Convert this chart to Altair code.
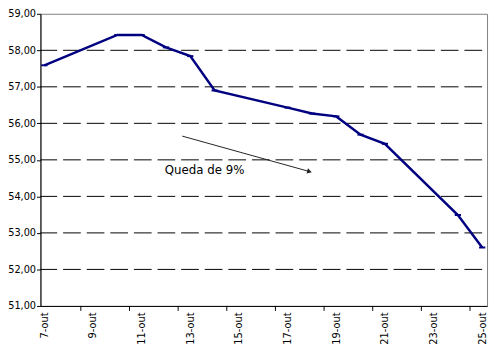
import altair as alt
import pandas as pd

# Data (October, trading days)
days = [7, 10, 11, 12, 13, 14, 17, 18, 19, 20, 21, 24, 25]
values = [57.59, 58.42, 58.42, 58.08, 57.84, 56.90, 56.43, 56.27, 56.19, 55.69, 55.44, 53.49, 52.60]

label_days = [7, 9, 11, 13, 15, 17, 19, 21, 23, 25]
tick_days = [8.5, 10.5, 12.5, 14.5, 16.5, 18.5, 20.5, 22.5, 24.5]
y_ticks = [51, 52, 53, 54, 55, 56, 57, 58, 59]
grid_values = [52, 53, 54, 55, 56, 57, 58]

note_text = ["Queda de 9%"]
note_pos = [(11.95, 54.73)]
arrow_start = (12.67, 55.65)
arrow_end = (17.9, 54.68)

W, H = 454, 297
FONT = "DejaVu Sans"
YFONT = "DejaVu Sans Condensed"

df = pd.DataFrame({"dia": days, "valor": values})
xs = alt.Scale(domain=[6.84, 25.2], nice=False, zero=False)
ys = alt.Scale(domain=[51, 59], nice=False, zero=False)

x_axis = alt.Axis(values=label_days, labelExpr="datum.value + '-out'", labelAngle=270,
                  labelFontSize=10, labelFont=FONT, ticks=False, tickSize=0, labelPadding=6,
                  grid=False, title=None, labelOverlap=False)
y_axis = alt.Axis(values=y_ticks, labelExpr="replace(format(datum.value, '.2f'), '.', ',')",
                  labelFontSize=11, labelFont=YFONT, tickSize=4, labelPadding=1,
                  grid=False, title=None, labelOverlap=False)


def X(field):
    return alt.X(field, scale=xs, axis=x_axis)


def Y(field):
    return alt.Y(field, scale=ys, axis=y_axis)


grid = alt.Chart(pd.DataFrame({"g": grid_values})).mark_rule(
    color="black", strokeWidth=1, strokeDash=[18, 6], strokeDashOffset=19
).encode(y=Y("g:Q"))

xticks = alt.Chart(pd.DataFrame({"t": tick_days})).mark_rule(color="black", strokeWidth=1).encode(
    x=X("t:Q"), y=alt.value(H), y2=alt.value(H + 5)
)

line = alt.Chart(df).mark_line(color="#000080", strokeWidth=2.5).encode(
    x=X("dia:Q"), y=Y("valor:Q")
)
marks = alt.Chart(df).mark_point(shape="stroke", size=40, strokeWidth=2, color="#000080", opacity=1).encode(
    x=X("dia:Q"), y=Y("valor:Q")
)

arrow_df = pd.DataFrame({"x": [arrow_start[0]], "y": [arrow_start[1]],
                         "x2": [arrow_end[0]], "y2": [arrow_end[1]]})
arrow = alt.Chart(arrow_df).mark_rule(color="#222222", strokeWidth=1).encode(
    x=X("x:Q"), y=Y("y:Q"), x2="x2:Q", y2="y2:Q"
)
head = alt.Chart(arrow_df).mark_point(shape="triangle-right", filled=True, size=30, angle=15.5,
                                      color="#222222", opacity=1).encode(
    x=X("x2:Q"), y=Y("y2:Q")
)

note_df = pd.DataFrame({"x": [p[0] for p in note_pos], "y": [p[1] for p in note_pos], "t": note_text})
note = alt.Chart(note_df).mark_text(align="left", baseline="middle", font=FONT, fontSize=12,
                                    color="black").encode(
    x=X("x:Q"), y=Y("y:Q"), text="t:N"
)

chart = alt.layer(grid, xticks, line, marks, arrow, head, note).properties(
    width=W, height=H, autosize="none",
    padding={"left": 33, "top": 3, "right": 3, "bottom": 47},
    background="white",
).configure_view(stroke="#808080", strokeWidth=1).configure_axis(
    labelOverlap=False, domainColor="black", tickColor="black", labelColor="black"
)

chart.save("out.html", embed_options={"renderer": "svg", "actions": False})
